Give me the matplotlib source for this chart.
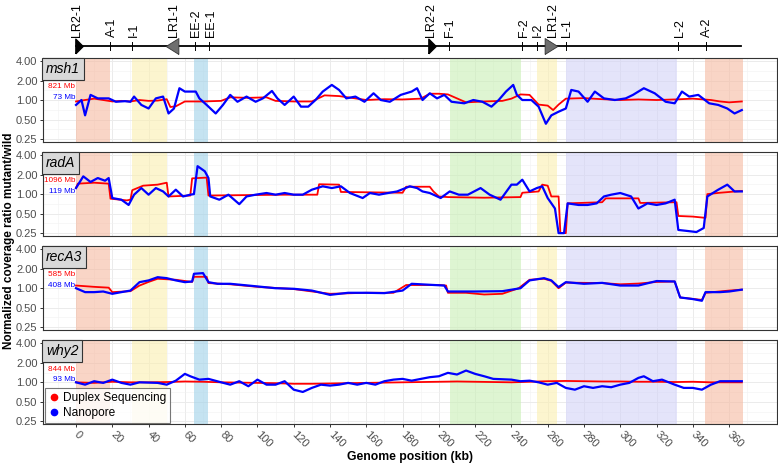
import matplotlib.pyplot as plt
from matplotlib.lines import Line2D
from matplotlib.ticker import NullFormatter

plt.rcParams['font.family'] = ['Liberation Sans', 'DejaVu Sans']

# ---- data ----
genes = ['msh1', 'radA', 'recA3', 'why2']
dup_depth = ['821 Mb', '1096 Mb', '585 Mb', '844 Mb']
nano_depth = ['73 Mb', '119 Mb', '408 Mb', '93 Mb']

# genome features shown above the panels (kb)
feature_names = ['LR2-1', 'A-1', 'I-1', 'LR1-1', 'EE-2', 'EE-1', 'LR2-2', 'F-1',
                 'F-2', 'I-2', 'LR1-2', 'L-1', 'L-2', 'A-2']
feature_kb = [0, 19, 31, 53, 65.5, 73.5, 195, 205.5, 246, 254, 262, 270, 332, 347]
feature_kind = ['rep2', 'tick', 'tick', 'rep1_rev', 'tick', 'tick', 'rep2', 'tick',
                'tick', 'tick', 'rep1', 'tick', 'tick', 'tick']
genome_end = 366.5

# shaded regions (kb)
region_start = [0, 31, 65, 206, 254, 270, 346.5]
region_end = [19, 50, 73, 245.5, 265, 331.5, 367.5]
region_color = ['#F6B9A0', '#FBEFB0', '#9FD1E8', '#C8EFB4', '#FBEFB0', '#D2D2F7', '#F6B9A0']

# msh1
msh1_nano_kb = [0, 3, 5, 8, 12, 18, 22, 27, 30, 32, 36, 40, 44, 48, 51, 54, 57, 60, 66, 68,
                72, 77, 81, 85, 89, 94, 99, 103, 108, 111, 115, 120, 124, 128, 132, 136, 141, 145, 149, 154,
                159, 164, 168, 173, 179, 185, 188, 191, 195, 199, 203, 207, 214, 219, 224, 229, 233, 237, 241, 243,
                246, 251, 255, 259, 262, 266, 270, 273, 277, 282, 286, 291, 297, 303, 307, 313, 319, 325, 330, 334,
                338, 343, 349, 354, 359, 363, 367]
msh1_nano = [0.84, 1.0, 0.58, 1.20, 1.06, 1.06, 0.94, 0.96, 0.94, 1.13, 0.84, 0.74, 1.06, 1.13, 0.62, 0.74, 1.52, 1.35, 1.35, 1.06,
             0.84, 0.62, 0.84, 1.20, 0.94, 1.13, 0.94, 1.06, 1.38, 1.06, 0.84, 1.13, 0.79, 0.79, 1.0, 1.35, 1.71, 1.43, 1.06, 1.13,
             0.94, 1.27, 1.0, 0.94, 1.20, 1.35, 1.52, 1.0, 1.27, 1.06, 1.20, 0.94, 0.89, 1.0, 0.94, 0.79, 1.0, 1.35, 1.71, 1.20,
             1.0, 1.0, 0.79, 0.43, 0.58, 0.66, 0.74, 1.43, 1.35, 0.94, 1.35, 1.06, 1.0, 1.06, 1.20, 1.52, 1.27, 0.94, 0.89, 1.35,
             1.13, 1.20, 0.89, 0.84, 0.74, 0.62, 0.70]
msh1_dup_kb = [0, 5, 10, 15, 20, 25, 30, 35, 40, 45, 50, 52, 55, 60, 70, 80, 85, 95, 105, 110,
               120, 130, 137, 145, 155, 160, 170, 180, 190, 195, 200, 205, 215, 225, 235, 240, 245, 250, 255, 260,
               263, 266, 270, 280, 290, 300, 310, 320, 330, 340, 350, 355, 360, 367]
msh1_dup = [0.95, 1.0, 1.05, 1.0, 0.95, 0.97, 0.95, 1.0, 0.97, 0.98, 1.03, 0.78, 0.8, 0.95, 0.95, 0.97, 1.1, 1.08, 1.1, 0.97,
            0.95, 0.95, 1.18, 1.15, 1.05, 1.0, 1.03, 1.02, 1.05, 1.25, 1.25, 1.22, 0.92, 0.95, 0.97, 1.05, 1.22, 1.2, 0.85, 0.82,
            0.7, 0.85, 1.05, 1.07, 1.03, 1.0, 1.02, 1.0, 1.02, 1.05, 1.0, 0.95, 0.92, 0.95]

# radA
radA_nano_kb = [0, 4, 8, 12, 16, 18, 20, 25, 29, 32, 36, 40, 44, 48, 51, 55, 59, 63, 65, 67,
                71, 73, 74, 79, 84, 90, 94, 99, 105, 110, 115, 120, 125, 130, 136, 141, 146, 151, 158, 162,
                167, 172, 177, 184, 188, 191, 195, 201, 206, 211, 216, 223, 228, 234, 240, 243, 246, 250, 254, 257,
                260, 264, 266, 269, 271, 277, 282, 287, 291, 295, 300, 306, 310, 315, 320, 325, 330, 332, 337, 342,
                346, 348, 354, 359, 363, 367]
radA_nano = [1.24, 1.88, 1.54, 1.77, 1.61, 1.77, 0.87, 0.82, 0.68, 0.98, 1.24, 0.98, 1.24, 1.10, 0.92, 1.17, 0.92, 0.98, 1.0, 2.7,
             2.25, 1.77, 0.92, 0.82, 0.98, 0.70, 0.92, 0.98, 1.04, 0.98, 1.04, 0.98, 0.98, 1.17, 1.32, 1.24, 1.32, 1.04, 0.87, 1.04,
             0.98, 1.04, 1.10, 1.32, 1.24, 1.10, 1.04, 0.87, 1.10, 0.98, 0.98, 1.24, 0.98, 0.82, 1.40, 1.40, 1.67, 1.10, 1.24, 1.32,
             0.87, 0.60, 0.25, 0.25, 0.72, 0.68, 0.68, 0.72, 0.92, 0.98, 1.04, 0.92, 0.60, 0.72, 0.68, 0.72, 0.82, 0.28, 0.27, 0.26,
             0.30, 0.92, 1.17, 1.40, 1.10, 1.10]
radA_dup_kb = [0, 1, 10, 18, 19, 28, 30, 31, 37, 45, 50, 51, 63, 64, 72, 73, 100, 115, 133, 134,
               145, 146, 180, 182, 195, 197, 200, 205, 225, 245, 246, 255, 257, 260, 262, 266, 267, 270, 271, 290,
               292, 310, 311, 331, 332, 340, 347, 348, 355, 367]
radA_dup = [1.25, 1.45, 1.5, 1.45, 0.85, 0.8, 0.82, 1.15, 1.35, 1.4, 1.5, 0.92, 0.95, 1.75, 1.8, 0.95, 0.97, 0.98, 0.98, 1.42,
            1.4, 1.08, 1.05, 1.3, 1.3, 1.1, 0.92, 0.9, 0.88, 0.9, 1.05, 1.1, 1.4, 1.35, 0.92, 0.92, 0.25, 0.25, 0.72, 0.75,
            0.86, 0.86, 0.73, 0.75, 0.46, 0.45, 0.43, 1.0, 1.05, 1.12]

# recA3
recA3_nano_kb = [0, 5, 10, 15, 20, 25, 30, 35, 40, 45, 50, 55, 60, 64, 65, 70, 73, 78, 85, 95,
                 110, 120, 130, 140, 150, 160, 170, 180, 185, 195, 203, 205, 220, 235, 245, 250, 258, 262, 266, 270,
                 280, 290, 300, 310, 320, 330, 333, 340, 345, 347, 355, 360, 367]
recA3_nano = [1.0, 0.87, 0.87, 0.89, 0.82, 0.87, 0.92, 1.24, 1.32, 1.48, 1.43, 1.32, 1.24, 1.27, 1.67, 1.71, 1.24, 1.17, 1.17, 1.10,
              1.0, 0.98, 0.92, 0.79, 0.85, 0.85, 0.84, 0.92, 1.17, 1.13, 1.10, 0.89, 0.89, 0.90, 1.0, 1.32, 1.43, 1.32, 1.04, 1.24,
              1.17, 1.21, 1.10, 1.10, 1.29, 1.27, 0.72, 0.68, 0.64, 0.87, 0.87, 0.89, 0.95]
recA3_dup_kb = [0, 10, 18, 20, 30, 35, 40, 45, 55, 64, 65, 72, 73, 85, 100, 120, 140, 160, 175, 182,
                200, 204, 205, 215, 225, 235, 244, 250, 258, 262, 266, 270, 290, 300, 310, 320, 330, 333, 345, 347,
                360, 367]
recA3_dup = [1.1, 1.05, 1.02, 0.87, 0.9, 1.1, 1.25, 1.4, 1.35, 1.25, 1.5, 1.5, 1.2, 1.15, 1.05, 0.97, 0.82, 0.85, 0.85, 1.12,
             1.12, 1.1, 0.85, 0.85, 0.8, 0.82, 1.0, 1.35, 1.4, 1.3, 1.0, 1.22, 1.2, 1.15, 1.18, 1.25, 1.27, 0.72, 0.66, 0.85,
             0.92, 0.95]

# why2
why2_nano_kb = [0, 5, 10, 15, 20, 25, 30, 35, 45, 50, 55, 60, 63, 68, 73, 80, 85, 90, 95, 100,
                105, 110, 115, 120, 125, 130, 135, 140, 145, 150, 155, 160, 165, 170, 175, 180, 185, 195, 200, 205,
                210, 215, 220, 225, 230, 240, 245, 250, 255, 260, 265, 270, 275, 280, 285, 290, 295, 300, 305, 310,
                313, 318, 323, 330, 335, 340, 345, 350, 355, 360, 367]
why2_nano = [1.0, 0.92, 1.04, 0.98, 1.10, 0.98, 0.92, 1.0, 0.98, 0.92, 1.06, 1.35, 1.24, 1.10, 1.13, 1.0, 0.92, 1.04, 0.87, 1.10,
             0.92, 0.92, 1.04, 0.77, 0.71, 0.82, 0.92, 0.89, 0.92, 0.98, 0.92, 0.98, 0.92, 1.04, 1.10, 1.13, 1.06, 1.20, 1.24, 1.40,
             1.32, 1.52, 1.35, 1.24, 1.13, 1.10, 1.04, 1.06, 1.0, 0.92, 0.98, 0.82, 0.77, 0.87, 0.82, 0.87, 0.84, 0.92, 0.98, 1.17,
             1.24, 1.04, 1.10, 0.92, 0.82, 0.82, 0.77, 0.92, 1.04, 1.04, 1.04]
why2_dup_kb = [0, 10, 20, 30, 40, 50, 60, 70, 80, 90, 100, 110, 120, 130, 140, 150, 160, 170, 180, 190,
               200, 210, 220, 230, 240, 250, 260, 270, 280, 290, 300, 310, 320, 330, 340, 350, 360, 367]
why2_dup = [1.0, 0.98, 1.02, 1.0, 1.0, 1.01, 1.03, 1.02, 1.0, 0.99, 0.98, 0.97, 0.95, 0.95, 0.96, 0.97, 0.98, 0.99, 1.0, 1.01,
            1.02, 1.03, 1.02, 1.01, 1.0, 1.02, 1.04, 1.05, 1.04, 1.03, 1.03, 1.02, 1.02, 1.01, 1.02, 1.0, 1.0, 1.0]

nano_kb = [msh1_nano_kb, radA_nano_kb, recA3_nano_kb, why2_nano_kb]
nano_val = [msh1_nano, radA_nano, recA3_nano, why2_nano]
dup_kb = [msh1_dup_kb, radA_dup_kb, recA3_dup_kb, why2_dup_kb]
dup_val = [msh1_dup, radA_dup, recA3_dup, why2_dup]

# ---- layout ----
W, H = 778, 468
fig = plt.figure(figsize=(W / 100, H / 100), dpi=100)
left = 43 / W
width = 734 / W
xlim = (-18.2, 386.4)
panel_h = 84
grey_txt = '#4D4D4D'
border = '#333333'

# feature track on top
axt = fig.add_axes([left, 1 - 56 / H, width, 56 / H])
axt.set_xlim(xlim)
axt.set_ylim(56, 0)
axt.axis('off')
axt.plot([0, genome_end], [46, 46], color='black', lw=1.3, zorder=1)
tri_right = [(-0.5, -1), (0.5, 0), (-0.5, 1), (-0.5, -1)]
tri_right_big = [(-0.8, -1), (0.8, 0), (-0.8, 1), (-0.8, -1)]
tri_left_big = [(0.8, -1), (-0.8, 0), (0.8, 1), (0.8, -1)]
for name, kb, kind in zip(feature_names, feature_kb, feature_kind):
    if kind == 'tick':
        axt.plot([kb, kb], [42, 50], color='black', lw=0.7, zorder=2)
    elif kind == 'rep2':
        axt.plot([kb + 1.5], [46], marker=tri_right, markersize=10.5, color='black', zorder=3)
    elif kind == 'rep1':
        axt.plot([kb], [46], marker=tri_right_big, markersize=11.5, color='#6E6E6E',
                 markeredgecolor='#333333', markeredgewidth=0.6, zorder=3)
    else:
        axt.plot([kb], [46], marker=tri_left_big, markersize=11.5, color='#6E6E6E',
                 markeredgecolor='#333333', markeredgewidth=0.6, zorder=3)
    axt.text(kb + 0.8, 37, name, rotation=90, ha='center', va='bottom', fontsize=9)

# coverage panels
axes = []
for i, gene in enumerate(genes):
    top_px = 58 + 94.1 * i
    ax = fig.add_axes([left, 1 - (top_px + panel_h) / H, width, panel_h / H])
    axes.append(ax)
    for s, e, c in zip(region_start, region_end, region_color):
        ax.axvspan(s, e, color=c, alpha=0.6, lw=0, zorder=1)
    ax.plot(dup_kb[i], dup_val[i], color='#FF0000', lw=1.3, zorder=3)
    ax.plot(nano_kb[i], nano_val[i], color='#0000FF', lw=1.6, zorder=4)

    ax.set_yscale('log', base=2)
    ax.set_ylim(0.225, 4.45)
    ax.set_xlim(xlim)
    ax.set_yticks([0.25, 0.5, 1, 2, 4])
    ax.set_yticklabels(['0.25', '0.50', '1.00', '2.00', '4.00'])
    ax.set_yticks([2 ** -1.5, 2 ** -0.5, 2 ** 0.5, 2 ** 1.5], minor=True)
    ax.yaxis.set_minor_formatter(NullFormatter())
    ax.set_xticks(range(0, 361, 20))
    ax.set_xticks(range(-10, 371, 20), minor=True)
    ax.grid(True, which='major', color='#EBEBEB', lw=0.7, zorder=0)
    ax.grid(True, which='minor', color='#F2F2F2', lw=0.4, zorder=0)
    ax.set_axisbelow(True)
    ax.tick_params(which='minor', length=0)
    ax.tick_params(which='major', length=2.5, width=0.7, color=border,
                   labelsize=8, labelcolor=grey_txt, pad=1.5)
    for sp in ax.spines.values():
        sp.set_color(border)
        sp.set_linewidth(0.8)
    if i < 3:
        ax.tick_params(axis='x', which='both', bottom=False, labelbottom=False)
    else:
        ax.set_xticklabels([str(v) for v in range(0, 361, 20)], rotation=-45,
                           ha='left', va='center', rotation_mode='anchor')
        ax.tick_params(axis='x', pad=4)

    ax.text(0.004, 0.955, gene, transform=ax.transAxes, ha='left', va='top',
            fontsize=10, style='italic', zorder=6,
            bbox=dict(boxstyle='square,pad=0.28', fc='#D9D9D9', ec=border, lw=0.8))
    ax.text(-0.4, 1.6, dup_depth[i], color='#FF0000', fontsize=5.9, ha='right', va='center', zorder=6)
    ax.text(-0.4, 1.11, nano_depth[i], color='#0000FF', fontsize=5.9, ha='right', va='center', zorder=6)

handles = [Line2D([], [], ls='', marker='o', markersize=4.5, color='#FF0000', label='Duplex Sequencing'),
           Line2D([], [], ls='', marker='o', markersize=4.5, color='#0000FF', label='Nanopore')]
leg = axes[3].legend(handles=handles, loc='lower left', bbox_to_anchor=(0.003, 0.02),
                     borderaxespad=0, fontsize=8.6, frameon=True, fancybox=False,
                     handlelength=0.8, handletextpad=0.4, borderpad=0.3, labelspacing=0.25)
leg.get_frame().set_edgecolor('#555555')
leg.get_frame().set_linewidth(0.8)
leg.set_zorder(7)

fig.text(0.011, 1 - 241 / H, 'Normalized coverage ratio mutant/wild', rotation=90,
         ha='center', va='center', fontsize=8.5, fontweight='bold')
fig.text(410 / W, 1 - 457 / H, 'Genome position (kb)', ha='center', va='center',
         fontsize=8.8, fontweight='bold')

fig.savefig('out.png', dpi=100)
